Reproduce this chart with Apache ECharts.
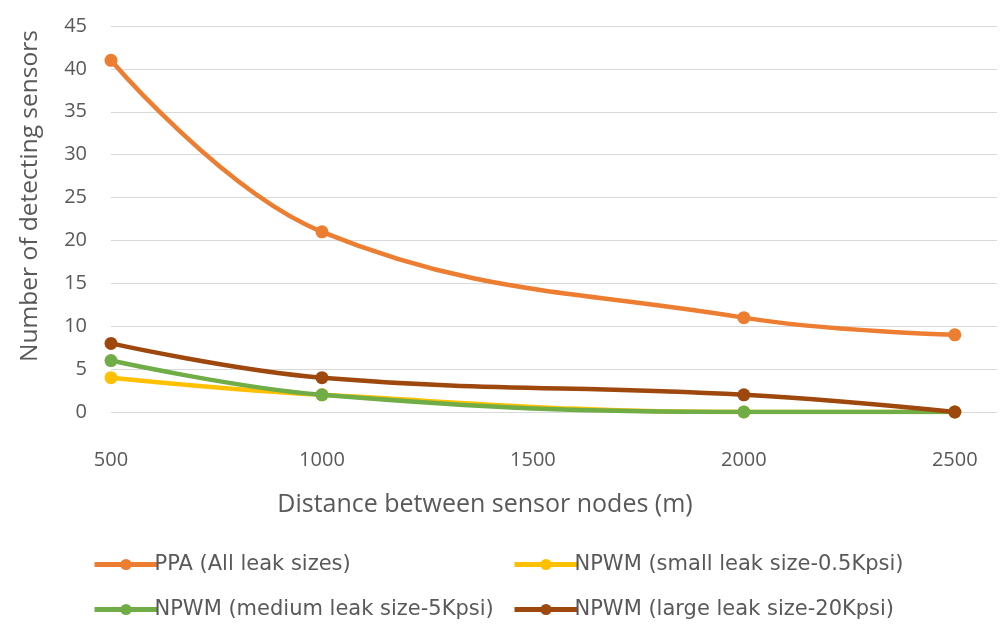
<!DOCTYPE html>
<html>
<head>
<meta charset="utf-8">
<script src="https://cdn.jsdelivr.net/npm/echarts@6/dist/echarts.min.js"></script>
<style>
html,body{margin:0;padding:0;background:#fff;}
#chart{width:1002px;height:626px;}
</style>
</head>
<body>
<div id="chart"></div>
<script>
const distances = [500, 1000, 2000, 2500];
const ppa = [41, 21, 11, 9];
const npwmSmall = [4, 2, 0, 0];
const npwmMedium = [6, 2, 0, 0];
const npwmLarge = [8, 4, 2, 0];
const seriesNames = [
  'PPA (All leak sizes)',
  'NPWM (small leak size-0.5Kpsi)',
  'NPWM (medium leak size-5Kpsi)',
  'NPWM (large leak size-20Kpsi)'
];
const colors = ['#ED7D31', '#FFC000', '#70AD47', '#9E480E'];
const seriesData = [ppa, npwmSmall, npwmMedium, npwmLarge];

const font = '"Open Sans", "DejaVu Sans", sans-serif';
const legendFont = '"DejaVu Sans", sans-serif';
const chart = echarts.init(document.getElementById('chart'));

const legendPos = [
  {left: 87, top: 549},
  {left: 507, top: 549},
  {left: 87, top: 594},
  {left: 507, top: 594}
];

chart.setOption({
  animation: false,
  backgroundColor: '#ffffff',
  grid: {left: 111, right: 5, top: 26, bottom: 214},
  legend: seriesNames.map((n, i) => ({
    data: [n],
    left: legendPos[i].left,
    top: legendPos[i].top,
    itemWidth: 63,
    itemHeight: 14,
    itemGap: 2,
    lineStyle: {width: 5},
    textStyle: {fontFamily: legendFont, fontSize: 21, color: '#595959', padding: [0, 0, 0, -8]}
  })),
  xAxis: {
    type: 'value',
    min: 500,
    max: 2600,
    interval: 500,
    axisLine: {show: false},
    axisTick: {show: false},
    splitLine: {show: false},
    axisLabel: {
      showMaxLabel: false,
      margin: 38,
      fontFamily: font,
      fontSize: 20,
      color: '#595959',
      formatter: v => String(v)
    },
    name: 'Distance between sensor nodes (m)',
    nameLocation: 'middle',
    nameGap: 80,
    nameTextStyle: {fontFamily: font, fontSize: 25, color: '#595959', padding: [0, 138, 0, 0]}
  },
  yAxis: {
    type: 'value',
    min: 0,
    max: 45,
    interval: 5,
    axisLine: {show: false},
    axisTick: {show: false},
    splitLine: {lineStyle: {color: '#d9d9d9', width: 1}},
    axisLabel: {
      margin: 24,
      fontFamily: font,
      fontSize: 20,
      color: '#595959'
    },
    name: 'Number of detecting sensors',
    nameLocation: 'middle',
    nameGap: 68,
    nameTextStyle: {fontFamily: font, fontSize: 24.5, color: '#595959', padding: [0, 0, 0, 46]}
  },
  series: seriesNames.map((n, i) => ({
    name: n,
    type: 'line',
    smooth: 0.4,
    data: distances.map((d, j) => [d, seriesData[i][j]]),
    symbol: 'circle',
    symbolSize: 13,
    itemStyle: {color: colors[i]},
    lineStyle: {color: colors[i], width: 4.5},
    z: 2 + i
  }))
});
</script>
</body>
</html>
